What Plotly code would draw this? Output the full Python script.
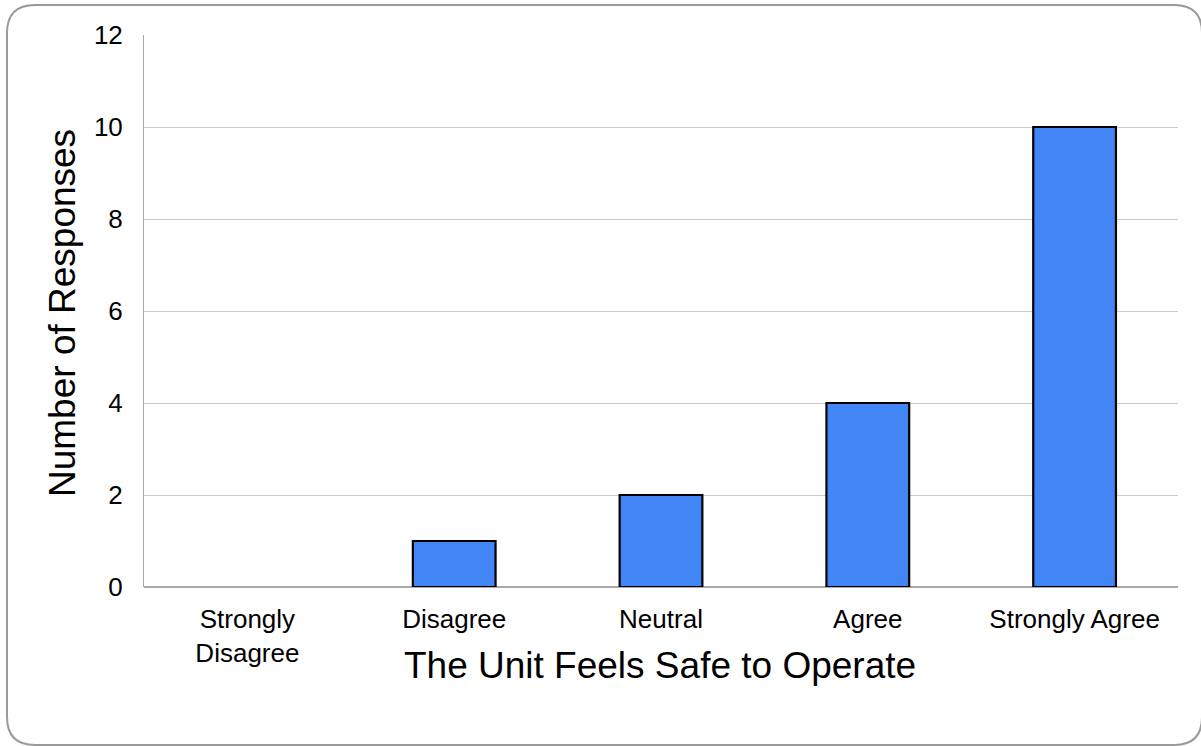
import plotly.graph_objects as go

categories = ["Strongly<br>Disagree", "Disagree", "Neutral", "Agree", "Strongly Agree"]
responses = [0, 1, 2, 4, 10]
y_ticks = [0, 2, 4, 6, 8, 10, 12]
x_title = "The Unit Feels Safe to Operate"
y_title = "Number of Responses"

W, H = 1201, 746
ML, MR, MT, MB = 144, 23, 35, 159
PW, PH = W - ML - MR, H - MT - MB

def px(x):
    return (x - ML) / PW

def py(y):
    return 1 - (y - MT) / PH

# rounded border path in paper coords
x0, y0, x1, y1, r = 7, 5, 1202, 745, 28
path = (
    f"M {px(x0 + r)} {py(y0)} L {px(x1 - r)} {py(y0)} "
    f"Q {px(x1)} {py(y0)} {px(x1)} {py(y0 + r)} "
    f"L {px(x1)} {py(y1 - r)} Q {px(x1)} {py(y1)} {px(x1 - r)} {py(y1)} "
    f"L {px(x0 + r)} {py(y1)} Q {px(x0)} {py(y1)} {px(x0)} {py(y1 - r)} "
    f"L {px(x0)} {py(y0 + r)} Q {px(x0)} {py(y0)} {px(x0 + r)} {py(y0)} Z"
)

outline_widths = [2.2 if v > 0 else 0 for v in responses]

fig = go.Figure(
    go.Bar(
        x=categories,
        y=responses,
        marker=dict(color="#4285F4", line=dict(color="#000000", width=outline_widths)),
        width=0.4,
    )
)

fig.update_layout(
    width=W,
    height=H,
    margin=dict(l=ML, r=MR, t=MT, b=MB),
    paper_bgcolor="white",
    plot_bgcolor="white",
    font=dict(family="Liberation Sans, Arial, sans-serif", color="#000000"),
    showlegend=False,
    shapes=[
        dict(type="path", path=path, xref="paper", yref="paper",
             line=dict(color="#9a9a9a", width=2), layer="below"),
    ],
    annotations=[
        dict(text=x_title, xref="paper", yref="paper", x=px(660), y=py(665),
             xanchor="center", yanchor="middle", showarrow=False,
             font=dict(size=37)),
        dict(text=y_title, xref="paper", yref="paper", x=px(62), y=py(313),
             xanchor="center", yanchor="middle", showarrow=False, textangle=-90,
             font=dict(size=37)),
    ],
)

fig.update_xaxes(
    showgrid=False,
    showline=False,
    tickfont=dict(size=26),
    ticks="",
    ticklabelstandoff=14,
)
fig.update_yaxes(
    range=[0, 12],
    tickvals=y_ticks,
    showgrid=True,
    gridcolor="#cccccc",
    gridwidth=1,
    showline=True,
    linecolor="#aaaaaa",
    linewidth=1,
    zeroline=True,
    zerolinecolor="#aaaaaa",
    zerolinewidth=2,
    tickfont=dict(size=26),
    ticks="",
    ticklabelstandoff=15,
)

fig.write_html(
    "out.html",
    config={"displayModeBar": False},
    post_script="document.body.style.margin='0';document.body.style.overflow='hidden';",
)
